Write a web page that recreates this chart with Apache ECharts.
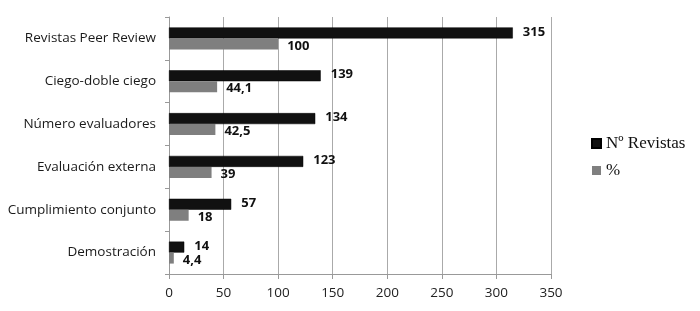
<!DOCTYPE html>
<html>
<head>
<meta charset="utf-8">
<script src="https://cdn.jsdelivr.net/npm/echarts@6/dist/echarts.min.js"></script>
<style>
  html, body { margin: 0; padding: 0; background: #fff; }
  #chart { width: 700px; height: 311px; }
</style>
</head>
<body>
<div id="chart"></div>
<script>
// datos del gráfico
var categories = ['Revistas Peer Review', 'Ciego-doble ciego', 'Número evaluadores', 'Evaluación externa', 'Cumplimiento conjunto', 'Demostración']
var revistas = [315, 139, 134, 123, 57, 14]
var porcentaje = [100, 44.1, 42.5, 39, 18, 4.4]
var xTicks = [0, 50, 100, 150, 200, 250, 300, 350]

var chart = echarts.init(document.getElementById('chart'))

// etiqueta con coma decimal
function fmt (p) {
  return String(p.value).replace('.', ',')
}

chart.setOption({
  backgroundColor: '#fff',
  animation: false,
  grid: {
    left: 169,
    right: 149,
    top: 17,
    bottom: 37
  },
  legend: {
    orient: 'vertical',
    left: 586,
    top: 130,
    itemWidth: 9,
    itemHeight: 9,
    itemGap: 10,
    icon: 'rect',
    textStyle: {
      fontFamily: 'Liberation Serif',
      fontSize: 17,
      color: '#111'
    },
    data: ['Nº Revistas', '%']
  },
  xAxis: {
    type: 'value',
    min: xTicks[0],
    max: xTicks[xTicks.length - 1],
    interval: 50,
    axisLine: { show: true, lineStyle: { color: '#999' } },
    axisTick: { show: true, length: 5, lineStyle: { color: '#999' } },
    axisLabel: {
      color: '#222',
      fontFamily: 'Open Sans',
      fontSize: 13.5,
      margin: 12
    },
    splitLine: { show: true, lineStyle: { color: '#aaa' } }
  },
  yAxis: {
    type: 'category',
    inverse: true,
    data: categories,
    axisLine: { show: true, lineStyle: { color: '#999' } },
    axisTick: { show: true, length: 4, lineStyle: { color: '#999' } },
    axisLabel: {
      color: '#1a1a1a',
      fontFamily: 'Open Sans',
      fontSize: 13.5,
      margin: 13
    }
  },
  series: [{
    name: 'Nº Revistas',
    type: 'bar',
    data: revistas,
    barWidth: 11,
    barGap: '0%',
    itemStyle: { color: '#111', borderColor: '#000', borderWidth: 0.5 },
    label: {
      show: true,
      position: 'right',
      distance: 10,
      offset: [0, -1],
      formatter: fmt,
      color: '#111',
      fontWeight: 'bold',
      fontFamily: 'Open Sans',
      fontSize: 13
    }
  }, {
    name: '%',
    type: 'bar',
    data: porcentaje,
    barWidth: 11,
    barGap: '0%',
    itemStyle: { color: '#7f7f7f' },
    label: {
      show: true,
      position: 'right',
      distance: 9,
      offset: [0, 2],
      formatter: fmt,
      color: '#111',
      fontWeight: 'bold',
      fontFamily: 'Open Sans',
      fontSize: 13
    }
  }]
})

window.onresize = function () {
  chart.resize()
}
</script>
</body>
</html>
